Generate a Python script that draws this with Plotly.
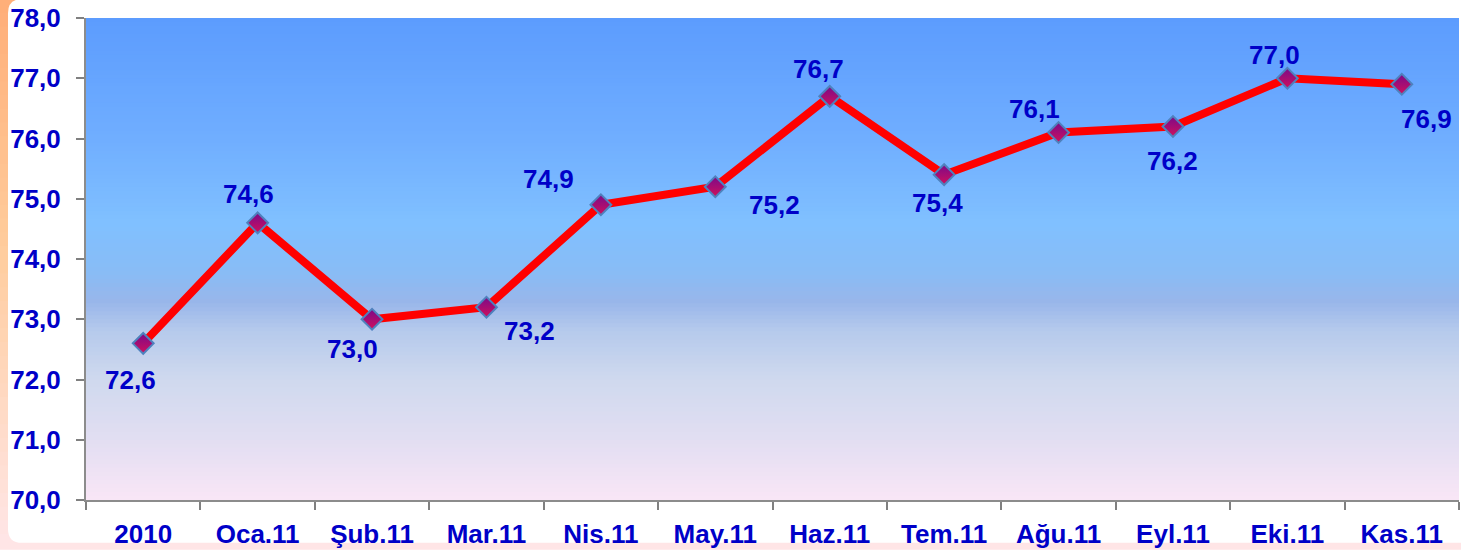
import plotly.graph_objects as go

categories = ["2010", "Oca.11", "Şub.11", "Mar.11", "Nis.11", "May.11",
              "Haz.11", "Tem.11", "Ağu.11", "Eyl.11", "Eki.11", "Kas.11"]
values = [72.6, 74.6, 73.0, 73.2, 74.9, 75.2, 76.7, 75.4, 76.1, 76.2, 77.0, 76.9]
y_ticks = [70, 71, 72, 73, 74, 75, 76, 77, 78]

# label offsets (style): pixels relative to each marker
label_dx = [-13, -9, -20, 43, -52, 59, -11, -7, -24, 0, -13, 25]
label_dy = [37, -29, 30, 24, -26, 18, -27, 28, -23, 35, -23, 35]

W, H = 1461, 551
ML, MR, MT, MB = 86, 2, 18, 49
PW, PH = W - ML - MR, H - MT - MB
FONT = "Liberation Sans"
TXT = "#0000C8"


def px2x(px):
    return (px - ML) / PW


def py2y(py):
    return (H - MB - py) / PH


def hex2rgb(h):
    h = h.lstrip("#")
    return tuple(int(h[i:i + 2], 16) for i in (0, 2, 4))


def interp(stops, t):
    for (t0, c0), (t1, c1) in zip(stops, stops[1:]):
        if t0 <= t <= t1:
            f = 0 if t1 == t0 else (t - t0) / (t1 - t0)
            a, b = hex2rgb(c0), hex2rgb(c1)
            return "rgb(%d,%d,%d)" % tuple(round(a[i] + (b[i] - a[i]) * f) for i in range(3))
    return stops[-1][1]


shapes = []

# outer slide gradient (orange -> pink)
outer_stops = [(0, "#FFAE78"), (0.45, "#FFCC9C"), (1.0, "#FFE6E8")]
n_out = 40
for i in range(n_out):
    t0, t1 = i / n_out, (i + 1) / n_out
    shapes.append(dict(type="rect", xref="paper", yref="paper", layer="below",
                       x0=px2x(-5), x1=px2x(W + 5),
                       y0=py2y(t0 * H - 1), y1=py2y(t1 * H + 1),
                       fillcolor=interp(outer_stops, (t0 + t1) / 2), line_width=0))

# white rounded panel
x0p, x1p, y0p, y1p, r = 8, W + 40, -1, 545, 14
X0, X1 = px2x(x0p), px2x(x1p)
Y0, Y1 = py2y(y0p), py2y(y1p)
rx, ry = r / PW, r / PH
path = (f"M {X0+rx},{Y0} L {X1},{Y0} L {X1},{Y1} L {X0+rx},{Y1} "
        f"Q {X0},{Y1} {X0},{Y1+ry} L {X0},{Y0-ry} Q {X0},{Y0} {X0+rx},{Y0} Z")
shapes.append(dict(type="path", xref="paper", yref="paper", layer="below",
                   path=path, fillcolor="white", line_width=0))

# plot area gradient
plot_stops = [(70.0, "#F9E6F6"), (71.0, "#E2DEF2"), (72.0, "#CFD9EE"),
              (72.8, "#B6CAEC"), (73.3, "#98B6EA"), (73.8, "#88BCF6"),
              (74.6, "#80C0FF"), (76.0, "#70AEFF"), (78.0, "#5C9CFE")]
n_pl = 120
for i in range(n_pl):
    v0 = 70 + 8 * i / n_pl
    v1 = 70 + 8 * (i + 1) / n_pl
    shapes.append(dict(type="rect", xref="paper", yref="y", layer="below",
                       x0=0, x1=1, y0=v0, y1=min(v1 + 0.05, 78),
                       fillcolor=interp(plot_stops, (v0 + v1) / 2), line_width=0))

fig = go.Figure()
fig.add_trace(go.Scatter(
    x=categories, y=values, mode="lines+markers",
    line=dict(color="#FF0000", width=8),
    marker=dict(symbol="diamond", size=16, color="#7A0A8A",
                gradient=dict(type="vertical", color="#D0105C"),
                line=dict(color="#4F81BD", width=2)),
    hoverinfo="skip", showlegend=False,
))

annotations = []
for i, (v, dx, dy) in enumerate(zip(values, label_dx, label_dy)):
    annotations.append(dict(x=i, y=v, xref="x", yref="y", showarrow=False,
                            text=f"{v:.1f}".replace(".", ","),
                            xshift=dx, yshift=-dy,
                            font=dict(family=FONT, size=26, color=TXT, weight="bold")))

fig.update_layout(
    width=W, height=H,
    margin=dict(l=ML, r=MR, t=MT, b=MB, pad=0),
    paper_bgcolor="white", plot_bgcolor="rgba(0,0,0,0)",
    separators=",.",
    shapes=shapes, annotations=annotations,
    xaxis=dict(type="category", tickson="boundaries", ticks="outside", ticklen=8,
               tickcolor="#808080", tickwidth=2, showline=True, linecolor="#8C8C8C",
               linewidth=2, showgrid=False, zeroline=False, ticklabelstandoff=10,
               tickfont=dict(family=FONT, size=26, color=TXT, weight="bold"),
               range=[-0.5, len(categories) - 0.5], fixedrange=True),
    yaxis=dict(range=[70, 78], tickvals=y_ticks, tickformat=".1f", ticks="outside",
               ticklen=8, tickcolor="#808080", tickwidth=2, showline=True,
               linecolor="#8C8C8C", linewidth=2, showgrid=False, zeroline=False,
               ticklabelstandoff=10,
               tickfont=dict(family=FONT, size=26, color=TXT, weight="bold"),
               fixedrange=True),
)

fig.write_html("out.html", config={"displayModeBar": False},
               post_script="document.body.style.margin='0';document.body.style.overflow='hidden';")
